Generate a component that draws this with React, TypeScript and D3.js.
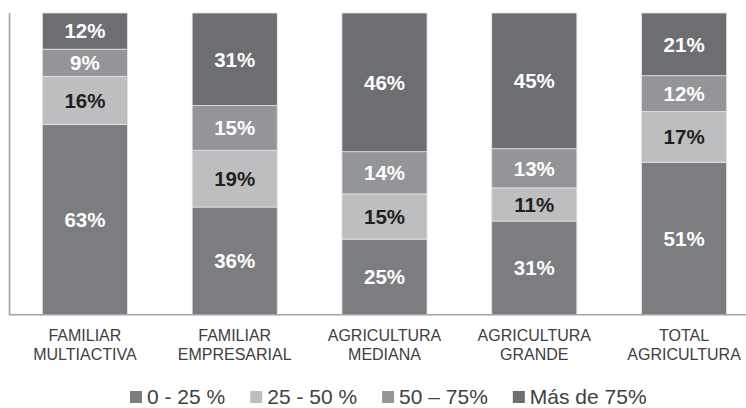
import React from "react";
import * as d3 from "d3";

const categories = [
  ["FAMILIAR", "MULTIACTIVA"],
  ["FAMILIAR", "EMPRESARIAL"],
  ["AGRICULTURA", "MEDIANA"],
  ["AGRICULTURA", "GRANDE"],
  ["TOTAL", "AGRICULTURA"],
];
const seriesNames = ["0 - 25 %", "25 - 50 %", "50 – 75%", "Más de 75%"];
const s0_25 = [63, 36, 25, 31, 51];
const s25_50 = [16, 19, 15, 11, 17];
const s50_75 = [9, 15, 14, 13, 12];
const s75 = [12, 31, 46, 45, 21];
const seriesValues = [s0_25, s25_50, s50_75, s75];
const colors = ["#7c7d81", "#bdbec0", "#939598", "#6d6e72"];
const labelColors = ["#ffffff", "#231f20", "#ffffff", "#ffffff"];

const W = 746;
const H = 408;

function measure(text: string, font: string): number {
  if (typeof document === "undefined") return text.length * 10;
  const c = document.createElement("canvas");
  const ctx = c.getContext("2d");
  if (!ctx) return text.length * 10;
  ctx.font = font;
  return ctx.measureText(text).width;
}

export default function App() {
  const rows = categories.map((c, i) => {
    const r: Record<string, number> = {};
    seriesNames.forEach((s, k) => (r[s] = seriesValues[k][i]));
    return r;
  });
  const stack = d3
    .stack<Record<string, number>>()
    .keys(seriesNames)
    .offset(d3.stackOffsetExpand);
  const stacked = stack(rows);

  const x = d3
    .scaleBand<number>()
    .domain(d3.range(categories.length))
    .range([10, 759])
    .paddingInner(0.432)
    .paddingOuter(0.216);
  const y = d3.scaleLinear().domain([0, 1]).range([314.5, 13]);

  const legendFont = "21px 'Liberation Sans', Arial, sans-serif";
  let lx = 130;
  const legendItems = seriesNames.map((s, k) => {
    const item = { x: lx, name: s, color: colors[k] };
    lx += 12 + 5 + measure(s, legendFont) + 25;
    return item;
  });

  return (
    <svg
      width={W}
      height={H}
      style={{ position: "absolute", left: 0, top: 0, background: "#fff" }}
      fontFamily="'Liberation Sans', Arial, sans-serif"
    >
      {stacked.map((layer, k) => (
        <g key={k}>
          {layer.map((d, i) => {
            const y0 = y(d[0]);
            const y1 = y(d[1]);
            return (
              <g key={i}>
                <rect
                  x={x(i)!}
                  y={y1}
                  width={x.bandwidth()}
                  height={y0 - y1}
                  fill={colors[k]}
                  stroke="#e4e4e4"
                  strokeWidth={0.8}
                />
                <text
                  x={x(i)! + x.bandwidth() / 2}
                  y={(y0 + y1) / 2}
                  dy="0.36em"
                  textAnchor="middle"
                  fontSize={20.5}
                  fontWeight="bold"
                  fill={labelColors[k]}
                >
                  {seriesValues[k][i] + "%"}
                </text>
              </g>
            );
          })}
        </g>
      ))}
      <line x1={9.5} x2={9.5} y1={13} y2={315} stroke="#a3a3a3" strokeWidth={1.6} />
      <line x1={9} x2={746} y1={314.8} y2={314.8} stroke="#a3a3a3" strokeWidth={1.6} />
      {categories.map((c, i) => (
        <text
          key={i}
          x={x(i)! + x.bandwidth() / 2}
          textAnchor="middle"
          fontSize={16}
          fill="#404040"
        >
          <tspan x={x(i)! + x.bandwidth() / 2} y={340.5}>
            {c[0]}
          </tspan>
          <tspan x={x(i)! + x.bandwidth() / 2} y={359.5}>
            {c[1]}
          </tspan>
        </text>
      ))}
      {legendItems.map((it, k) => (
        <g key={k}>
          <rect x={it.x} y={391} width={12} height={12} fill={it.color} />
          <text x={it.x + 17} y={404} fontSize={21} fill="#404040">
            {it.name}
          </text>
        </g>
      ))}
    </svg>
  );
}
